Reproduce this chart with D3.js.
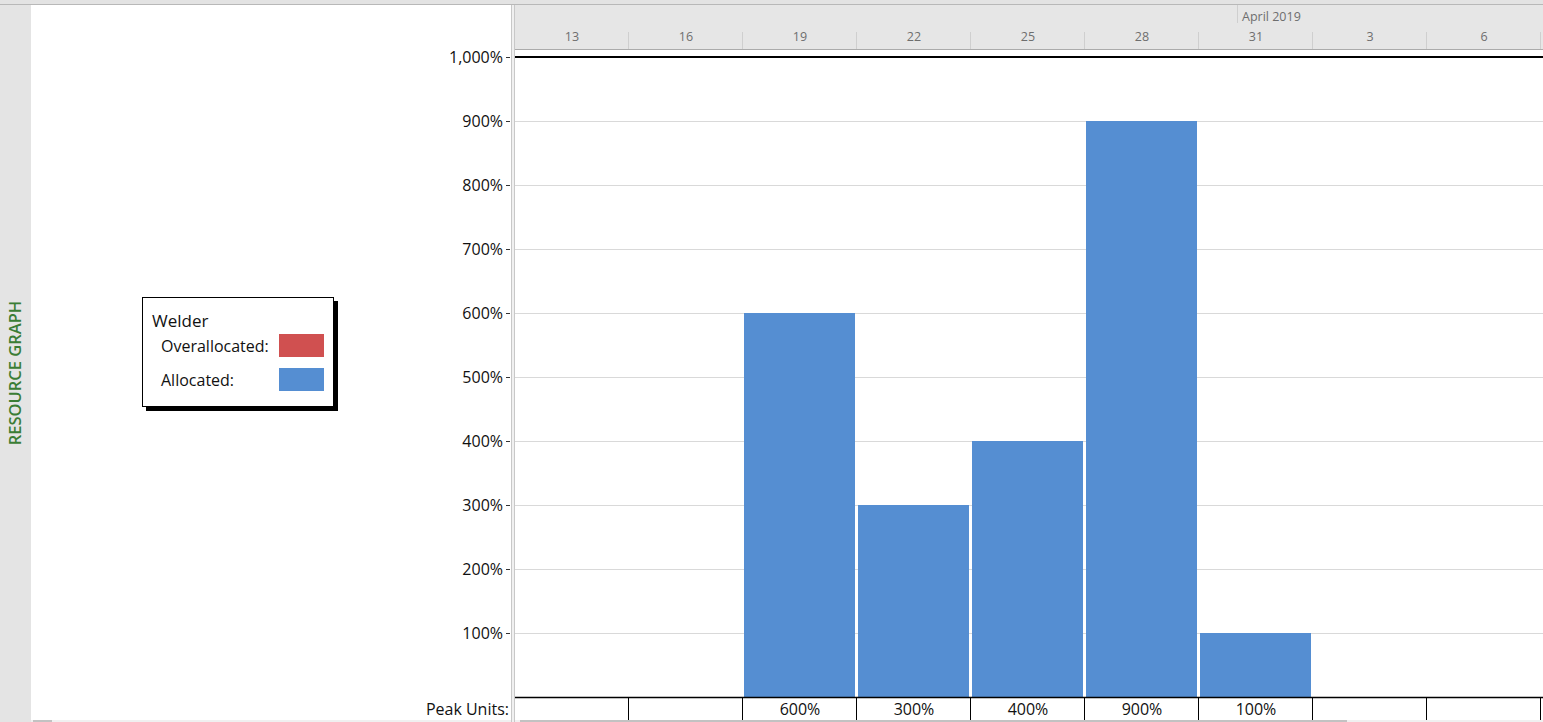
<!DOCTYPE html>
<head>
  <meta charset="utf-8">
  <script src="https://cdn.jsdelivr.net/npm/d3@7"></script>
  <style>
    body { margin: 0; background: #fff; overflow: hidden; }
    svg { display: block; font-family: "Open Sans", "Noto Sans", sans-serif; }
  </style>
</head>
<body>
<svg id="chart" width="1543" height="722"></svg>
<script>
// timescale: 3-day columns from Mar 13 to Apr 9, 2019
var tierStart = "2019-03-13", tierEnd = "2019-04-09"
var monthLabel = "April 2019", monthStart = "2019-04-01"
// bars: start date of each 3-day period with allocation (percent)
var barStarts = ["2019-03-19", "2019-03-22", "2019-03-25", "2019-03-28", "2019-03-31"]
var barValues = [600, 300, 400, 900, 100]
var yTicks = [100, 200, 300, 400, 500, 600, 700, 800, 900, 1000]
var resource = "Welder"
var legendItems = ["Overallocated:", "Allocated:"]
var legendColors = ["#d05050", "#558ed2"]

var parse = d3.timeParse("%Y-%m-%d")
  , W = 1543, H = 722
  , left = 515, right = 1541
  , base = 697

var svg = d3.select('#chart')

var x = d3.scaleTime().domain([parse(tierStart), parse(tierEnd)]).range([left, right])
var y = d3.scaleLinear().domain([0, 1000]).range([base, 57])
var cols = d3.range(9).map(function (i) { return d3.timeDay.offset(parse(tierStart), i * 3) })

// background chrome
svg.append('rect').attr('width', W).attr('height', 4).attr('fill', '#e3e3e3')
svg.append('line').attr('x1', 0).attr('x2', W).attr('y1', 4.5).attr('y2', 4.5).attr('stroke', '#b8b8b8')
svg.append('rect').attr('x', 0).attr('y', 5).attr('width', 31).attr('height', H - 5).attr('fill', '#e4e4e4')
svg.append('text')
  .attr('transform', 'translate(21,373) rotate(-90)')
  .attr('text-anchor', 'middle')
  .attr('fill', '#3b7d35')
  .attr('font-size', 16.5)
  .attr('font-weight', 600)
  .text('RESOURCE GRAPH')

// splitter
svg.append('rect').attr('x', 511).attr('y', 5).attr('width', 4).attr('height', H - 5).attr('fill', '#f0f0f0')
svg.append('line').attr('x1', 511.5).attr('x2', 511.5).attr('y1', 5).attr('y2', H).attr('stroke', '#c8c8c8')
svg.append('line').attr('x1', 514.5).attr('x2', 514.5).attr('y1', 5).attr('y2', H).attr('stroke', '#c8c8c8')

// timescale header
svg.append('rect').attr('x', left).attr('y', 5).attr('width', W - left).attr('height', 44).attr('fill', '#e6e6e6')
svg.append('line').attr('x1', left).attr('x2', W).attr('y1', 49.5).attr('y2', 49.5).attr('stroke', '#ababab')
svg.append('line').attr('x1', Math.round(x(parse(monthStart))) + 0.5).attr('x2', Math.round(x(parse(monthStart))) + 0.5)
  .attr('y1', 5).attr('y2', 23).attr('stroke', '#cfcfcf')
svg.append('text').attr('x', x(parse(monthStart)) + 5).attr('y', 21)
  .attr('font-size', 12.5).attr('fill', '#6e6e6e').text(monthLabel)

var hdr = svg.append('g')
hdr.selectAll('line').data(cols.slice(1).concat([parse(tierEnd)])).enter().append('line')
  .attr('x1', function (d) { return Math.round(x(d)) - 0.5 })
  .attr('x2', function (d) { return Math.round(x(d)) - 0.5 })
  .attr('y1', 32).attr('y2', 49).attr('stroke', '#cfcfcf')
hdr.selectAll('text').data(cols).enter().append('text')
  .attr('x', function (d) { return x(d3.timeHour.offset(d, 36)) })
  .attr('y', 41).attr('text-anchor', 'middle')
  .attr('font-size', 12.5).attr('fill', '#6e6e6e')
  .text(function (d) { return d.getDate() })

// gridlines
svg.append('g').selectAll('line').data(yTicks.slice(0, -1)).enter().append('line')
  .attr('x1', left).attr('x2', W)
  .attr('y1', function (d) { return Math.round(y(d)) + 0.5 })
  .attr('y2', function (d) { return Math.round(y(d)) + 0.5 })
  .attr('stroke', '#d9d9d9')

// bars
svg.append('g').selectAll('rect').data(barValues).enter().append('rect')
  .attr('x', function (d, i) { return x(parse(barStarts[i])) + 1 })
  .attr('width', function (d, i) { return x(d3.timeDay.offset(parse(barStarts[i]), 3)) - x(parse(barStarts[i])) - 3 })
  .attr('y', function (d) { return y(d) })
  .attr('height', function (d) { return base - y(d) })
  .attr('fill', legendColors[1])

// 1000% max line
svg.append('line').attr('x1', left).attr('x2', W).attr('y1', y(1000)).attr('y2', y(1000))
  .attr('stroke', '#000').attr('stroke-width', 2.2)

// y axis
var yAxis = svg.append('g').attr('transform', 'translate(510,0)')
  .call(d3.axisLeft(y).tickValues(yTicks).tickSize(4).tickPadding(3)
    .tickFormat(function (d) { return d3.format(',')(d) + '%' }))
yAxis.select('.domain').remove()
yAxis.selectAll('text').attr('font-size', 16).attr('fill', '#111').attr('font-family', '"Open Sans", sans-serif')
  .attr('dy', '0.32em')
yAxis.selectAll('line').attr('stroke', '#333')

// peak units row
svg.append('line').attr('x1', left).attr('x2', W).attr('y1', base + 0.5).attr('y2', base + 0.5)
  .attr('stroke', '#000').attr('stroke-width', 1.5)
svg.append('text').attr('x', 509).attr('y', 715).attr('text-anchor', 'end')
  .attr('font-size', 16).attr('fill', '#111').text('Peak Units:')
var peak = svg.append('g')
peak.selectAll('line').data(cols.slice(1).concat([parse(tierEnd)])).enter().append('line')
  .attr('x1', function (d) { return Math.round(x(d)) - 0.5 })
  .attr('x2', function (d) { return Math.round(x(d)) - 0.5 })
  .attr('y1', base).attr('y2', 720).attr('stroke', '#000')
peak.selectAll('text').data(barValues).enter().append('text')
  .attr('x', function (d, i) { return x(d3.timeHour.offset(parse(barStarts[i]), 36)) })
  .attr('y', 715).attr('text-anchor', 'middle')
  .attr('font-size', 16).attr('fill', '#111')
  .text(function (d) { return d + '%' })

// scrollbars at the bottom
svg.append('rect').attr('x', 31).attr('y', 720).attr('width', 480).attr('height', 2).attr('fill', '#f0f0f0')
svg.append('rect').attr('x', 33).attr('y', 720).attr('width', 19).attr('height', 2).attr('fill', '#c2c2c2')
svg.append('rect').attr('x', left).attr('y', 720).attr('width', W - left).attr('height', 2).attr('fill', '#f0f0f0')
svg.append('rect').attr('x', 520).attr('y', 720).attr('width', 827).attr('height', 2).attr('fill', '#c2c2c2')

// legend
var lg = svg.append('g').attr('transform', 'translate(142,297)')
lg.append('rect').attr('x', 4).attr('y', 4).attr('width', 192).attr('height', 110).attr('fill', '#000')
lg.append('rect').attr('x', 0.5).attr('y', 0.5).attr('width', 191).attr('height', 109)
  .attr('fill', '#fff').attr('stroke', '#000')
lg.append('text').attr('x', 10).attr('y', 30).attr('font-size', 17).attr('fill', '#111').text(resource)
legendItems.forEach(function (t, i) {
  lg.append('text').attr('x', 19).attr('y', 55 + i * 34).attr('font-size', 16).attr('fill', '#111').text(t)
  lg.append('rect').attr('x', 137).attr('y', 37 + i * 34).attr('width', 45).attr('height', 23)
    .attr('fill', legendColors[i])
})
</script>
</body>
